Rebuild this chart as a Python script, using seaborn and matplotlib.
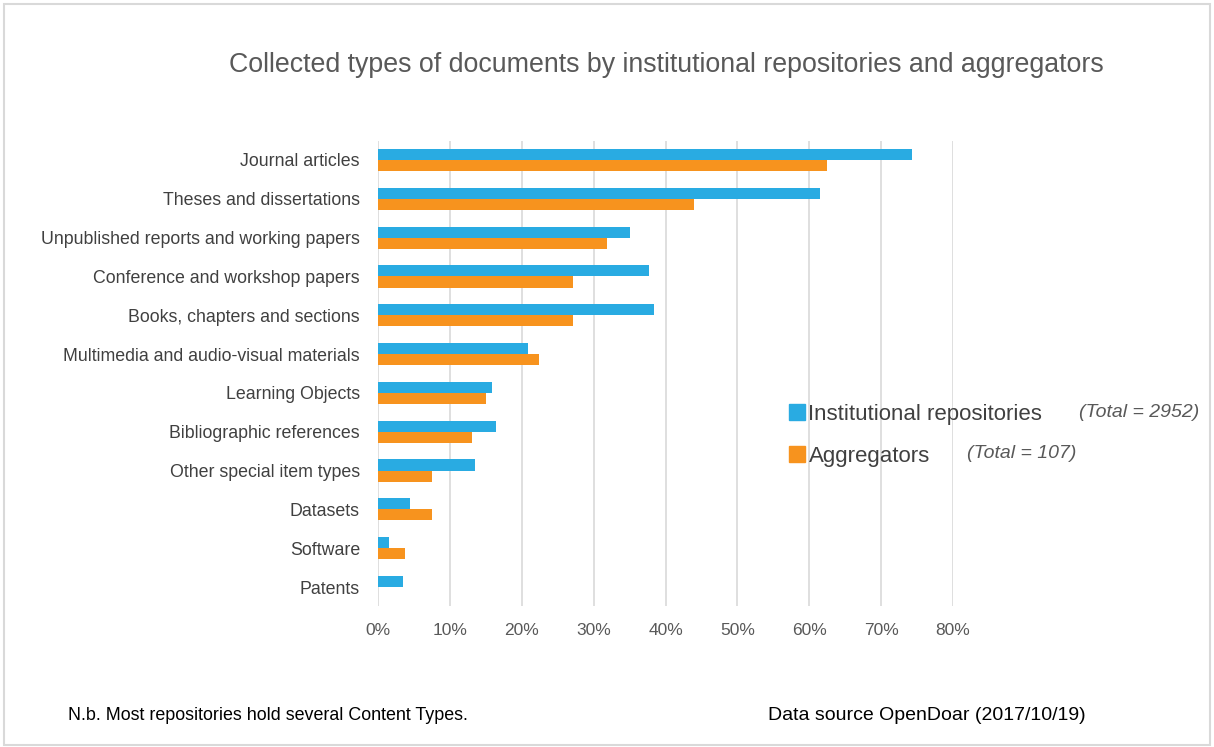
import pandas as pd
import matplotlib.pyplot as plt
from matplotlib.patches import Rectangle
from matplotlib.lines import Line2D
from matplotlib.ticker import PercentFormatter
import seaborn as sns

categories = ['Journal articles', 'Theses and dissertations',
              'Unpublished reports and working papers', 'Conference and workshop papers',
              'Books, chapters and sections', 'Multimedia and audio-visual materials',
              'Learning Objects', 'Bibliographic references', 'Other special item types',
              'Datasets', 'Software', 'Patents']
institutional = [74.3, 61.5, 35.0, 37.7, 38.4, 20.8, 15.8, 16.4, 13.5, 4.4, 1.5, 3.5]
aggregators = [62.5, 43.9, 31.8, 27.1, 27.1, 22.4, 15.0, 13.1, 7.5, 7.5, 3.7, 0.0]
series = ['Institutional repositories', 'Aggregators']
totals = ['(Total = 2952)', '(Total = 107)']
colors = ['#29ABE2', '#F7931E']

df = pd.DataFrame({
    'category': categories * 2,
    'series': [series[0]] * len(categories) + [series[1]] * len(categories),
    'value': [v / 100 for v in institutional + aggregators],
})

sns.set_style('white')
plt.rcParams['font.family'] = ['Liberation Sans', 'DejaVu Sans']

fig = plt.figure(figsize=(12.14, 7.47), dpi=100)
ax = fig.add_axes([0.3114, 0.1882, 0.4736, 0.6236])

sns.barplot(data=df, y='category', x='value', hue='series', order=categories,
            hue_order=series, palette=colors, width=0.57, orient='h',
            saturation=1, legend=False, linewidth=0, ax=ax)

ax.set_xlim(0, 0.8)
ax.set_ylim(len(categories) - 0.5, -0.5)
ax.xaxis.set_major_formatter(PercentFormatter(1.0, decimals=0))
ax.set_xticks([i / 10 for i in range(9)])
ax.grid(axis='x', color='#d9d9d9', linewidth=1.2)
ax.set_axisbelow(True)
for s in ax.spines.values():
    s.set_visible(False)
ax.set_xlabel('')
ax.set_ylabel('')
ax.tick_params(axis='y', labelsize=12.8, labelcolor='#404040', length=0, pad=13)
ax.tick_params(axis='x', labelsize=12.5, labelcolor='#595959', length=0, pad=12)

fig.text(0.549, 0.913, 'Collected types of documents by institutional repositories and aggregators',
         ha='center', va='center', fontsize=19.3, color='#595959')

handles = [Line2D([], [], marker='s', linestyle='', markersize=11, color=c) for c in colors]
leg = fig.legend(handles, series, loc='upper left', bbox_to_anchor=(0.633, 0.486),
                 frameon=False, fontsize=16, handletextpad=0.1, labelspacing=0.95,
                 handlelength=0.8, labelcolor='#404040')
fig.text(0.988, 0.448, totals[0], ha='right', va='center', fontsize=14,
         style='italic', color='#595959')
fig.text(0.887, 0.393, totals[1], ha='right', va='center', fontsize=14,
         style='italic', color='#595959')

fig.text(0.056, 0.042, 'N.b. Most repositories hold several Content Types.',
         ha='left', va='center', fontsize=12.9, color='black')
fig.text(0.633, 0.042, 'Data source OpenDoar (2017/10/19)',
         ha='left', va='center', fontsize=14, color='black')

fig.add_artist(Rectangle((0.003, 0.003), 0.994, 0.992, transform=fig.transFigure,
                         fill=False, edgecolor='#d9d9d9', linewidth=1.5))

plt.savefig('out.png', dpi=100)
